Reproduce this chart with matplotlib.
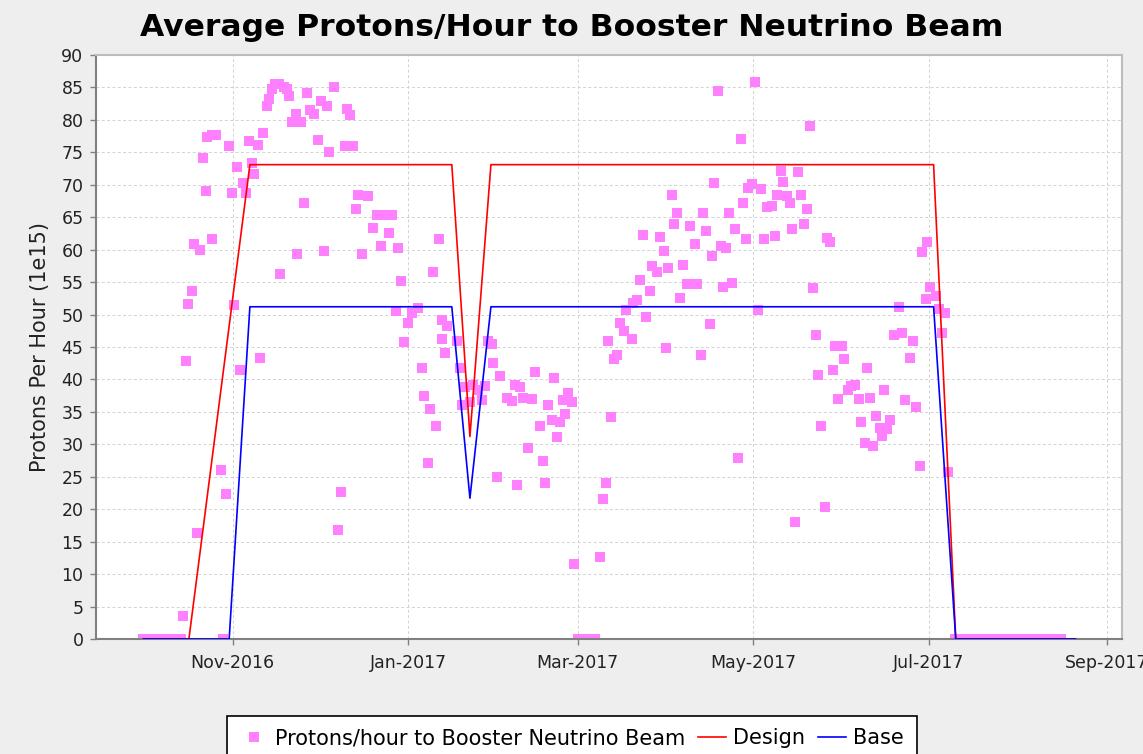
import numpy as np
import matplotlib
matplotlib.use("Agg")
import matplotlib.pyplot as plt
import matplotlib.dates as mdates
from datetime import datetime

# day offsets are counted from 1 Nov 2016
start = datetime(2016, 11, 1)

zero_days_a = list(range(-31, -17))
zero_days_b = list(range(120, 127))
zero_days_c = list(range(251, 289))

days = [
    -17.4, -16.3, -15.5, -14.2, -13.5, -12.3, -11.4, -10.2, -9.4, -8.8,
    -7.3, -7.3, -5.8, -4.2, -3.3, -2.3, -1.3, -0.3, 0.6, 1.6,
    2.5, 3.5, 4.6, 5.8, 6.7, 7.5, 8.9, 9.6, 10.6, 11.8,
    12.8, 13.7, 14.7, 16.2, 16.5, 17.8, 18.8, 19.7, 20.7, 22.0,
    22.5, 23.7, 24.8, 25.7, 26.9, 28.3, 29.7, 30.6, 31.8, 32.7,
    33.6, 35.3, 36.5, 37.6, 39.1, 39.7, 40.8, 42.0, 42.8, 43.7,
    44.9, 47.2, 48.9, 50.1, 51.6, 52.4, 54.5, 55.3, 56.8, 57.6,
    58.4, 59.6, 61.1, 62.3, 64.6, 65.7, 66.6, 67.8, 68.6, 69.8,
    70.6, 71.8, 72.7, 72.7, 73.8, 74.4, 77.9, 79.1, 79.7, 80.8,
    82.5, 83.7, 85.4, 86.6, 87.8, 88.9, 90.1, 90.6, 91.8, 93.0,
    95.3, 97.0, 98.2, 98.8, 99.9, 101.1, 102.6, 104.0, 105.1, 106.9,
    107.8, 108.6, 109.8, 111.0, 111.8, 112.7, 113.8, 115.0, 115.6, 116.7,
    117.9, 118.7,
    127.8, 128.7, 129.7, 130.6, 131.6, 132.7, 133.6, 134.7, 135.9, 136.8,
    138.8, 139.3, 140.5, 141.8, 142.6, 143.8, 145.0, 145.7, 147.5, 148.6,
    149.8, 150.7, 151.5, 152.9, 153.6, 154.6, 155.6, 156.7, 157.9, 159.0,
    160.6, 161.6, 162.8, 163.7, 164.6, 165.8, 166.6, 167.5, 168.7, 169.8,
    170.6, 171.6, 172.6, 173.7, 174.5, 175.7, 176.7, 177.6, 178.5, 179.3,
    180.5, 181.7, 182.8, 183.8, 184.6, 185.7, 187.5, 188.6, 189.2, 190.6,
    191.5, 192.7, 193.8, 194.6, 195.6, 196.7, 197.6, 198.5, 199.7, 200.8,
    201.7, 202.8, 203.6, 204.6, 205.8, 206.8, 207.8, 208.7, 209.5, 210.6,
    211.8, 212.6, 213.8, 215.0, 216.5, 217.6, 218.4, 219.9, 220.5, 221.7,
    222.8, 223.8, 225.2, 225.7, 226.6, 227.5, 228.4, 229.8, 231.8, 232.7,
    233.8, 235.6, 236.7, 237.7, 238.8, 239.7, 240.9, 241.4, 242.6, 244.6,
    245.5, 246.6, 247.8, 248.7,
]
protons = [
    3.5, 42.8, 51.7, 53.6, 60.8, 16.4, 60.0, 74.2, 69.0, 77.4,
    77.6, 61.7, 77.6, 26.0, 0.0, 22.4, 75.9, 68.8, 51.4, 72.8,
    41.5, 70.2, 68.8, 76.7, 73.3, 71.6, 76.1, 43.3, 78.0, 82.2,
    83.2, 84.7, 85.5, 85.5, 56.2, 85.1, 84.7, 83.7, 79.6, 80.9,
    59.3, 79.6, 67.2, 84.1, 81.6, 80.9, 76.9, 82.9, 59.8, 82.1,
    75.0, 85.1, 16.8, 22.7, 76.0, 81.7, 80.7, 76.0, 66.2, 68.5,
    59.4, 68.3, 63.4, 65.3, 60.5, 65.3, 62.6, 65.4, 50.5, 60.3,
    55.1, 45.7, 48.7, 50.3, 51.0, 41.7, 37.5, 27.2, 35.5, 56.6,
    32.9, 61.7, 49.2, 46.2, 44.1, 48.2, 45.9, 41.7, 36.1, 38.8,
    36.5, 39.2, 38.4, 36.8, 39.0, 45.9, 45.5, 42.5, 25.0, 40.6,
    37.1, 36.7, 39.2, 23.8, 38.8, 37.1, 29.4, 37.0, 41.1, 32.8,
    27.4, 24.1, 36.1, 33.8, 40.2, 31.1, 33.4, 36.9, 34.6, 37.9,
    36.5, 11.5,
    12.6, 21.5, 24.0, 45.9, 34.2, 43.2, 43.7, 48.7, 47.4, 50.7,
    46.3, 51.8, 52.3, 55.3, 62.2, 49.6, 53.6, 57.5, 56.5, 61.9,
    59.8, 44.9, 57.1, 68.5, 64.0, 65.6, 52.5, 57.7, 54.7, 63.6,
    60.8, 54.7, 43.7, 65.6, 62.9, 48.5, 59.1, 70.3, 84.5, 60.5,
    54.3, 60.2, 65.7, 54.8, 63.2, 27.9, 77.0, 67.2, 61.7, 69.5,
    70.1, 85.8, 50.7, 69.3, 61.7, 66.5, 66.7, 62.1, 68.5, 72.1,
    70.5, 68.3, 67.2, 63.2, 18.1, 72.0, 68.5, 64.0, 66.2, 79.0,
    54.1, 46.9, 40.7, 32.9, 20.4, 61.8, 61.2, 41.5, 45.1, 37.0,
    45.1, 43.2, 38.3, 39.0, 39.2, 37.0, 33.4, 30.2, 41.7, 37.2,
    29.7, 34.4, 32.5, 31.3, 38.4, 32.4, 33.8, 46.8, 51.1, 47.2,
    36.9, 43.3, 45.9, 35.8, 26.6, 59.6, 52.4, 61.2, 54.3, 52.9,
    50.9, 47.2, 50.3, 25.7,
]

design_days = [-31, -15.2, 6.0, 76.2, 82.5, 89.8, 243.7, 251.4, 293]
design_vals = [0, 0, 73.1, 73.1, 31.2, 73.1, 73.1, 0, 0]
base_days = [-31, -1.2, 6.0, 76.2, 82.5, 89.8, 243.7, 251.4, 293]
base_vals = [0, 0, 51.2, 51.2, 21.7, 51.2, 51.2, 0, 0]

zero_days = zero_days_a + zero_days_b + zero_days_c
all_days = np.array(days + zero_days, dtype=float)
all_vals = np.array(protons + [0.0] * len(zero_days))

t0 = mdates.date2num(start)

fig = plt.figure(figsize=(11.43, 7.54), dpi=100, facecolor="#eeeeee")
ax = fig.add_axes([96 / 1143, 1 - 639 / 754, (1122 - 96) / 1143, (639 - 55) / 754])
ax.set_facecolor("white")

ax.plot(t0 + all_days, all_vals, ls="none", marker="s", ms=7.5, mew=0,
        color="#ff80ff", label="Protons/hour to Booster Neutrino Beam", zorder=2)
ax.plot(t0 + np.array(design_days), design_vals, color="#ff0000", lw=1.2,
        label="Design", zorder=3)
ax.plot(t0 + np.array(base_days), base_vals, color="#0000ff", lw=1.2,
        label="Base", zorder=3)

ax.set_xlim(t0 - 47.5, t0 + 309.2)
ax.set_ylim(0, 90)
ax.set_yticks(np.arange(0, 91, 5))
ax.xaxis.set_major_locator(mdates.MonthLocator(bymonth=[1, 3, 5, 7, 9, 11]))
ax.xaxis.set_major_formatter(mdates.DateFormatter("%b-%Y"))

ax.grid(True, color="#d2d2d2", lw=0.7, ls=(0, (3, 2.5)))
ax.set_axisbelow(True)
ax.tick_params(axis="both", colors="#808080", labelcolor="#222222", labelsize=12.5,
               length=4, width=1)
ax.tick_params(axis="x", pad=7)
ax.tick_params(axis="y", pad=5)
for side in ["left", "bottom"]:
    ax.spines[side].set_color("#808080")
    ax.spines[side].set_linewidth(1.5)
for side in ["top", "right"]:
    ax.spines[side].set_color("#bdbdbd")
    ax.spines[side].set_linewidth(1.5)

ax.set_ylabel("Protons Per Hour (1e15)", fontsize=15, color="#222222", labelpad=8)

fig.text(572 / 1143, 1 - 28 / 754, "Average Protons/Hour to Booster Neutrino Beam",
         ha="center", va="center", fontsize=22.6, fontweight="bold", color="black")

leg = fig.legend(loc="upper center", bbox_to_anchor=(572 / 1143, 1 - 716 / 754),
                 ncol=3, fontsize=15, frameon=True, fancybox=False, framealpha=1,
                 edgecolor="black", facecolor="white", handlelength=1.35,
                 handletextpad=0.35, columnspacing=0.6, borderpad=0.6, numpoints=1,
                 borderaxespad=0)
leg.get_frame().set_linewidth(1.2)

fig.savefig("out.png", dpi=100, facecolor=fig.get_facecolor())
